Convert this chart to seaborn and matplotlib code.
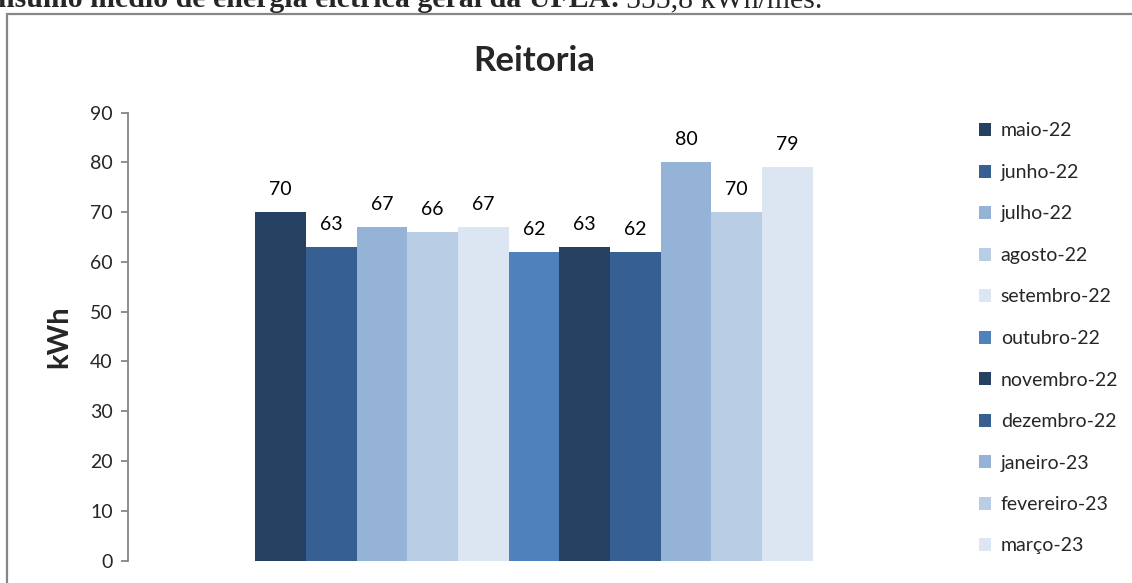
import matplotlib
matplotlib.use("Agg")
import matplotlib.pyplot as plt
import seaborn as sns
import pandas as pd
from matplotlib.patches import Rectangle

# ---------------- DATA ----------------
meses = ["maio-22", "junho-22", "julho-22", "agosto-22", "setembro-22", "outubro-22",
         "novembro-22", "dezembro-22", "janeiro-23", "fevereiro-23", "março-23"]
consumo = [70, 63, 67, 66, 67, 62, 63, 62, 80, 70, 79]
cores = ["#254061", "#376092", "#95B3D7", "#B9CDE5", "#DCE6F2", "#4F81BD",
         "#254061", "#376092", "#95B3D7", "#B9CDE5", "#DCE6F2"]

df = pd.DataFrame({"grupo": [""] * len(meses), "mes": meses, "kWh": consumo})

sns.set_style("white")
plt.rcParams["font.family"] = ["Lato", "DejaVu Sans"]

fig = plt.figure(figsize=(11.32, 5.83), dpi=100)
ax = fig.add_axes([128 / 1132, 22.5 / 583, (940 - 128) / 1132, 448 / 583])

sns.barplot(data=df, x="grupo", y="kWh", hue="mes", palette=cores,
            width=0.686, saturation=1, linewidth=0, edgecolor="none",
            ax=ax, legend=True)

for c in ax.containers:
    ax.bar_label(c, padding=10, fontsize=14, color="#000000")

ax.set_ylim(0, 90)
ax.set_xlim(-0.5, 0.5)
ax.set_yticks(range(0, 91, 10))
ax.tick_params(axis="y", labelsize=14, length=5, width=1.3, color="#868686",
               left=True, pad=6)
ax.set_xticks([])
ax.set_xlabel("")
ax.set_ylabel("kWh", fontsize=21, fontweight="bold", labelpad=13)
for s in ["top", "right", "bottom"]:
    ax.spines[s].set_visible(False)
ax.spines["left"].set_color("#868686")
ax.spines["left"].set_linewidth(1.3)

ax.set_title("Reitoria", fontsize=25, fontweight="bold", pad=30)

leg = ax.legend(loc="upper left", bbox_to_anchor=(961 / 1132, 1 - 105 / 583),
                bbox_transform=fig.transFigure, frameon=False, fontsize=14,
                labelspacing=1.26, handlelength=0.65, handleheight=0.65,
                handletextpad=0.5)

# moldura do grafico
fig.patches.append(Rectangle((7 / 1132, -0.1), 1.2, 1 - 14 / 583 + 0.1,
                             transform=fig.transFigure, fill=False,
                             edgecolor="#868686", linewidth=1.6))

# texto cortado no topo (como na imagem original)
t1 = fig.text(-2 / 1132, 1 - 7 / 583, "nsumo médio de energia elétrica geral da UFLA:",
              family="Liberation Serif", fontweight="bold", fontsize=21.5, va="baseline")
fig.canvas.draw()
bb = t1.get_window_extent()
fig.text(bb.x1 / 1132 + 6 / 1132, 1 - 7 / 583, "555,8 kWh/mês.",
         family="Liberation Serif", fontsize=21.5, va="baseline")

fig.savefig("out.png", dpi=100)
